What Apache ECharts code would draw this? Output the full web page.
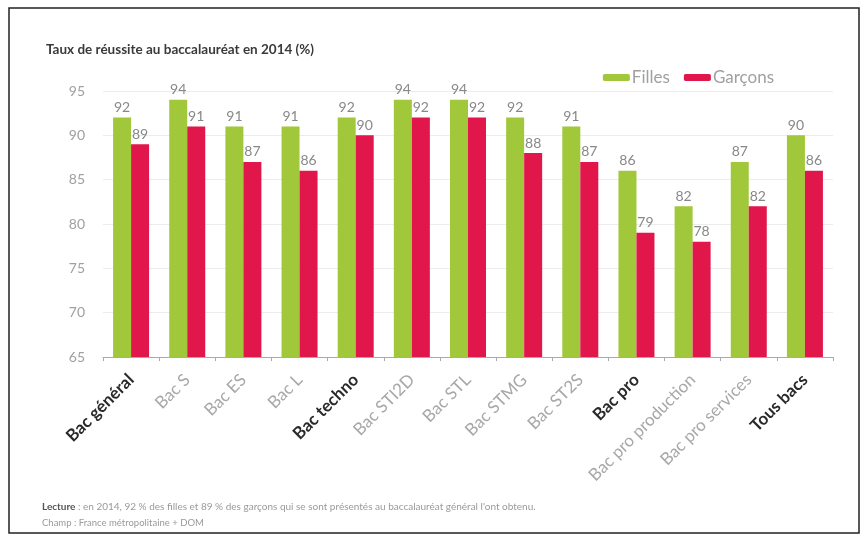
<!DOCTYPE html>
<html><head><meta charset="utf-8">
<script src="https://cdn.jsdelivr.net/npm/echarts@6/dist/echarts.min.js"></script>
<style>html,body{margin:0;padding:0;background:#fff;}#c{width:867px;height:540px;}</style>
</head><body><div id="c"></div>
<script>
const categories = ['Bac général','Bac S','Bac ES','Bac L','Bac techno','Bac STI2D','Bac STL','Bac STMG','Bac ST2S','Bac pro','Bac pro production','Bac pro services','Tous bacs'];
const boldCats = ['Bac général','Bac techno','Bac pro','Tous bacs'];
const filles = [92,94,91,91,92,94,94,92,91,86,82,87,90];
const garcons = [89,91,87,86,90,92,92,88,87,79,78,82,86];
const yTicks = [65,70,75,80,85,90,95];

const chart = echarts.init(document.getElementById('c'));
const font = 'Lato, "Open Sans", sans-serif';
chart.setOption({
  animation:false,
  title:{text:'Taux de réussite au baccalauréat en 2014 (%)',left:41,top:38,
    textStyle:{fontSize:13.5,fontWeight:'bold',color:'#3a3a3a',fontFamily:font}},
  legend:{right:88,top:64,itemWidth:27,itemHeight:7,itemGap:14,
    textStyle:{color:'#a0a0a0',fontSize:17,fontFamily:font,padding:[0,0,0,-3]},
    data:['Filles','Garçons']},
  grid:{left:103,right:34,top:91,bottom:183},
  xAxis:{type:'category',data:categories,
    axisLine:{lineStyle:{color:'#aaa'}},
    axisTick:{show:true,length:4,lineStyle:{color:'#aaa'}},
    axisLabel:{rotate:45,interval:0,margin:20,fontFamily:font,
      formatter:v=>boldCats.includes(v)?'{b|'+v+'}':'{n|'+v+'}',
      rich:{b:{fontWeight:'bold',color:'#2a2a2a',fontSize:17,fontFamily:font},
            n:{color:'#a8a8a8',fontSize:17,fontFamily:font}}}},
  yAxis:{type:'value',min:yTicks[0],max:yTicks[yTicks.length-1],interval:5,
    axisLine:{show:false},axisTick:{show:false},
    axisLabel:{margin:18,color:'#a0a0a0',fontSize:14,fontFamily:font,padding:[0,0,9,0]},
    splitLine:{lineStyle:{color:'#ececec'}}},
  series:[
    {name:'Filles',type:'bar',data:filles,barWidth:18,barGap:'0%',
     itemStyle:{color:'#a1c83a'},
     label:{show:true,position:'top',distance:3,color:'#888',fontSize:14,fontFamily:font}},
    {name:'Garçons',type:'bar',data:garcons,barWidth:18,
     itemStyle:{color:'#e1164b'},
     label:{show:true,position:'top',distance:3,color:'#888',fontSize:14,fontFamily:font}}
  ],
  graphic:[
    {type:'rect',shape:{x:9,y:8,width:850,height:525},style:{fill:'none',stroke:'#222',lineWidth:1.5}},
    {type:'text',left:42,top:502,style:{text:'{b|Lecture} : en 2014, 92 % des filles et 89 % des garçons qui se sont présentés au baccalauréat général l\'ont obtenu.',
      fill:'#9a9a9a',fontSize:10,fontFamily:font,rich:{b:{fontWeight:'bold',fill:'#555',fontSize:10,fontFamily:font}}}},
    {type:'text',left:42,top:518,style:{text:'Champ : France métropolitaine + DOM',fill:'#9a9a9a',fontSize:9.5,fontFamily:font}}
  ]
});
</script></body></html>
